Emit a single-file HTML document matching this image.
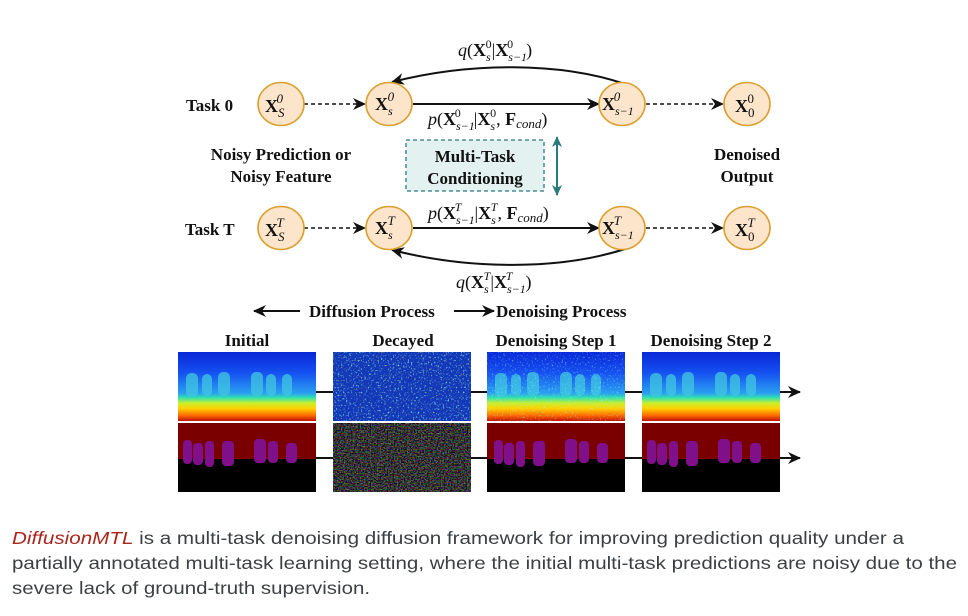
<!DOCTYPE html>
<html><head><meta charset="utf-8"><style>
html,body{margin:0;padding:0;background:#fff;}
svg{display:block;}
.t{font-family:"Liberation Serif",serif;font-weight:bold;font-size:17px;fill:#111;}
.m{font-family:"Liberation Serif",serif;font-size:18px;fill:#111;}
.c{font-family:"Liberation Sans",sans-serif;font-size:17.5px;fill:#3c4043;}
</style></head><body>
<svg width="968" height="616" viewBox="0 0 968 616" xmlns="http://www.w3.org/2000/svg">
<defs>
<marker id="ah" markerWidth="14" markerHeight="12" refX="12" refY="6" orient="auto" markerUnits="userSpaceOnUse">
<path d="M0,0 L13,6 L0,12 L4,6 z" fill="#111"/></marker>
<marker id="ahg" markerWidth="12" markerHeight="10" refX="10" refY="5" orient="auto-start-reverse" markerUnits="userSpaceOnUse">
<path d="M0,0 L11,5 L0,10 L3,5 z" fill="#2a7b7e"/></marker>
<linearGradient id="dep" x1="0" y1="0" x2="0" y2="1">
<stop offset="0" stop-color="#0a28d8"/><stop offset="0.3" stop-color="#1550f0"/>
<stop offset="0.6" stop-color="#2aa0f0"/><stop offset="0.66" stop-color="#30e0b0"/>
<stop offset="0.74" stop-color="#c8f030"/><stop offset="0.82" stop-color="#ffd000"/>
<stop offset="0.92" stop-color="#ff6a00"/><stop offset="1" stop-color="#c01000"/></linearGradient>
<filter id="nz" x="0" y="0" width="1" height="1"><feTurbulence type="fractalNoise" baseFrequency="0.7" numOctaves="1" seed="3"/><feColorMatrix type="matrix" values="2.2 0 0 0 -0.95  0 2.2 0 0 -0.95  0 0 2.2 0 -0.95  0 0 0 0 1"/></filter>
<filter id="nz2" x="0" y="0" width="1" height="1"><feTurbulence type="fractalNoise" baseFrequency="0.6" numOctaves="1" seed="7"/><feColorMatrix type="matrix" values="0 0 0 0 0.3  0 0 0 0 0.95  0 0 0 0 1  4 0 0 0 -2.3"/></filter>
<filter id="nz3" x="0" y="0" width="1" height="1"><feTurbulence type="fractalNoise" baseFrequency="0.6" numOctaves="1" seed="11"/><feColorMatrix type="matrix" values="0 0 0 0 1  0 0 0 0 0.9  0 0 0 0 0.1  0 4 0 0 -2.6"/></filter>
<g id="figs" fill="#80108a">
<rect x="5" y="17" width="9" height="24" rx="4"/><rect x="15" y="20" width="10" height="22" rx="4"/><rect x="27" y="18" width="9" height="26" rx="4"/>
<rect x="44" y="18" width="12" height="25" rx="4"/><rect x="76" y="16" width="12" height="24" rx="4"/><rect x="90" y="18" width="10" height="22" rx="4"/><rect x="108" y="20" width="11" height="20" rx="4"/></g>
<g id="dfigs" fill="#40c8e0" opacity="0.75">
<rect x="8" y="21" width="12" height="24" rx="5"/><rect x="24" y="22" width="10" height="22" rx="5"/><rect x="40" y="20" width="12" height="24" rx="5"/>
<rect x="73" y="20" width="12" height="24" rx="5"/><rect x="88" y="22" width="10" height="22" rx="5"/><rect x="104" y="22" width="10" height="22" rx="5"/></g>
</defs>

<path d="M625,84 C560,62 470,62 392,82" fill="none" stroke="#111" stroke-width="2" marker-end="url(#ah)"/>
<text class="m" x="458" y="56"><tspan font-style="italic">q</tspan>(<tspan font-weight="bold">X</tspan><tspan font-size="12" dy="5" font-style="italic">s</tspan><tspan font-size="12" dx="-5" dy="-13">0</tspan><tspan dy="8">|</tspan><tspan font-weight="bold">X</tspan><tspan font-size="12" dy="5" font-style="italic">s−1</tspan><tspan font-size="12" dx="-20" dy="-13">0</tspan><tspan dx="13" dy="8">)</tspan></text>
<path d="M625,249 C560,270 470,270 392,250" fill="none" stroke="#111" stroke-width="2" marker-end="url(#ah)"/>
<text class="m" x="456" y="288"><tspan font-style="italic">q</tspan>(<tspan font-weight="bold">X</tspan><tspan font-size="12" dy="5" font-style="italic">s</tspan><tspan font-size="12" dx="-5" dy="-13" font-style="italic">T</tspan><tspan dy="8">|</tspan><tspan font-weight="bold">X</tspan><tspan font-size="12" dy="5" font-style="italic">s−1</tspan><tspan font-size="12" dx="-20" dy="-13" font-style="italic">T</tspan><tspan dx="13" dy="8">)</tspan></text>

<g stroke="#111" stroke-width="1.6" fill="none">
<line x1="304" y1="104" x2="365" y2="104" stroke-dasharray="4,3" marker-end="url(#ah)"/>
<line x1="413" y1="104" x2="599" y2="104" stroke-width="2" marker-end="url(#ah)"/>
<line x1="646" y1="104" x2="723" y2="104" stroke-dasharray="4,3" marker-end="url(#ah)"/>
<line x1="304" y1="228" x2="365" y2="228" stroke-dasharray="4,3" marker-end="url(#ah)"/>
<line x1="413" y1="228" x2="599" y2="228" stroke-width="2" marker-end="url(#ah)"/>
<line x1="646" y1="228" x2="723" y2="228" stroke-dasharray="4,3" marker-end="url(#ah)"/>
</g>
<g fill="#fde5cb" stroke="#d9a030" stroke-width="1.6">
<ellipse cx="281" cy="104" rx="23" ry="21.5"/><ellipse cx="389" cy="104" rx="23" ry="21.5"/><ellipse cx="622" cy="104" rx="23" ry="21.5"/><ellipse cx="747" cy="104" rx="23" ry="21.5"/>
<ellipse cx="281" cy="228" rx="23" ry="21.5"/><ellipse cx="389" cy="228" rx="23" ry="21.5"/><ellipse cx="622" cy="228" rx="23" ry="21.5"/><ellipse cx="747" cy="228" rx="23" ry="21.5"/>
</g>
<g class="m" font-size="20">
<text x="265" y="112"><tspan font-weight="bold">X</tspan><tspan font-size="13" dy="5" font-style="italic">S</tspan><tspan font-size="13" dx="-8" dy="-14" font-style="italic">0</tspan></text>
<text x="375" y="110"><tspan font-weight="bold">X</tspan><tspan font-size="12" dy="5" font-style="italic">s</tspan><tspan font-size="13" dx="-5" dy="-14" font-style="italic">0</tspan></text>
<text x="602" y="110"><tspan font-weight="bold">X</tspan><tspan font-size="12" dy="5" font-style="italic">s−1</tspan><tspan font-size="13" dx="-20" dy="-14" font-style="italic">0</tspan></text>
<text x="735" y="112"><tspan font-weight="bold">X</tspan><tspan font-size="13" dy="5">0</tspan><tspan font-size="13" dx="-7" dy="-14">0</tspan></text>
<text x="265" y="236"><tspan font-weight="bold">X</tspan><tspan font-size="13" dy="5" font-style="italic">S</tspan><tspan font-size="13" dx="-8" dy="-14" font-style="italic">T</tspan></text>
<text x="375" y="234"><tspan font-weight="bold">X</tspan><tspan font-size="12" dy="5" font-style="italic">s</tspan><tspan font-size="13" dx="-5" dy="-14" font-style="italic">T</tspan></text>
<text x="602" y="234"><tspan font-weight="bold">X</tspan><tspan font-size="12" dy="5" font-style="italic">s−1</tspan><tspan font-size="13" dx="-20" dy="-14" font-style="italic">T</tspan></text>
<text x="735" y="236"><tspan font-weight="bold">X</tspan><tspan font-size="13" dy="5">0</tspan><tspan font-size="13" dx="-7" dy="-14" font-style="italic">T</tspan></text>
</g>
<g class="m">
<text x="428" y="125"><tspan font-style="italic">p</tspan>(<tspan font-weight="bold">X</tspan><tspan font-size="12" dy="5" font-style="italic">s−1</tspan><tspan font-size="12" dx="-20" dy="-13">0</tspan><tspan dx="13" dy="8">|</tspan><tspan font-weight="bold">X</tspan><tspan font-size="12" dy="5" font-style="italic">s</tspan><tspan font-size="12" dx="-5" dy="-13">0</tspan><tspan dy="8">, </tspan><tspan font-weight="bold">F</tspan><tspan font-size="13" dy="3" font-style="italic">cond</tspan><tspan dy="-3">)</tspan></text>
<text x="428" y="219"><tspan font-style="italic">p</tspan>(<tspan font-weight="bold">X</tspan><tspan font-size="12" dy="5" font-style="italic">s−1</tspan><tspan font-size="12" dx="-20" dy="-13" font-style="italic">T</tspan><tspan dx="13" dy="8">|</tspan><tspan font-weight="bold">X</tspan><tspan font-size="12" dy="5" font-style="italic">s</tspan><tspan font-size="12" dx="-5" dy="-13" font-style="italic">T</tspan><tspan dy="8">, </tspan><tspan font-weight="bold">F</tspan><tspan font-size="13" dy="3" font-style="italic">cond</tspan><tspan dy="-3">)</tspan></text>
</g>
<text class="t" x="186" y="111" font-size="18">Task 0</text>
<text class="t" x="185" y="235" font-size="18">Task T</text>
<text class="t" x="281" y="160" text-anchor="middle" font-size="18">Noisy Prediction or</text>
<text class="t" x="281" y="182" text-anchor="middle" font-size="18">Noisy Feature</text>
<text class="t" x="747" y="160" text-anchor="middle" font-size="18">Denoised</text>
<text class="t" x="747" y="182" text-anchor="middle" font-size="18">Output</text>
<rect x="406" y="140" width="138" height="51" fill="#e3f1f1" stroke="#2a7b7e" stroke-width="1.3" stroke-dasharray="4,3"/>
<text class="t" x="475" y="162" text-anchor="middle" font-size="21">Multi-Task</text>
<text class="t" x="475" y="184" text-anchor="middle" font-size="21">Conditioning</text>
<line x1="557" y1="137" x2="557" y2="195" stroke="#2a7b7e" stroke-width="2" marker-start="url(#ahg)" marker-end="url(#ahg)"/>

<line x1="300" y1="311" x2="254" y2="311" stroke="#111" stroke-width="2" marker-end="url(#ah)"/>
<text class="t" x="309" y="317" font-size="16">Diffusion Process</text>
<line x1="454" y1="311" x2="494" y2="311" stroke="#111" stroke-width="2" marker-end="url(#ah)"/>
<text class="t" x="496" y="317" font-size="16">Denoising Process</text>
<g class="t" font-size="16" text-anchor="middle">
<text x="247" y="346">Initial</text><text x="403" y="346">Decayed</text><text x="556" y="346">Denoising Step 1</text><text x="711" y="346">Denoising Step 2</text></g>

<line x1="316" y1="392" x2="800" y2="392" stroke="#111" stroke-width="2" marker-end="url(#ah)"/>
<line x1="316" y1="458" x2="800" y2="458" stroke="#111" stroke-width="2" marker-end="url(#ah)"/>

<g transform="translate(178,352)">
<rect width="138" height="69" fill="url(#dep)"/><use href="#dfigs"/>
<rect y="71" width="138" height="69" fill="#7a0000"/><rect y="107" width="138" height="33" fill="#000"/>
<use href="#figs" transform="translate(0,71)"/>
</g>
<g transform="translate(333,352)">
<rect width="138" height="69" fill="#1238b8"/><rect width="138" height="69" filter="url(#nz2)"/><rect width="138" height="69" filter="url(#nz3)"/>
<rect y="71" width="138" height="69" fill="#000"/><rect y="71" width="138" height="69" filter="url(#nz)" opacity="0.55"/>
</g>
<g transform="translate(487,352)">
<rect width="138" height="69" fill="url(#dep)"/><use href="#dfigs"/><rect width="138" height="69" filter="url(#nz2)" opacity="0.6"/>
<rect y="71" width="138" height="69" fill="#7a0000"/><rect y="107" width="138" height="33" fill="#000"/>
<use href="#figs" transform="translate(2,71)"/>
</g>
<g transform="translate(642,352)">
<rect width="138" height="69" fill="url(#dep)"/><use href="#dfigs"/>
<rect y="71" width="138" height="69" fill="#7a0000"/><rect y="107" width="138" height="33" fill="#000"/>
<use href="#figs" transform="translate(0,71)"/>
</g>

<text class="c" x="12" y="544" textLength="892" lengthAdjust="spacingAndGlyphs"><tspan fill="#a8261c" font-style="italic">DiffusionMTL</tspan> is a multi-task denoising diffusion framework for improving prediction quality under a</text>
<text class="c" x="12" y="569" textLength="945" lengthAdjust="spacingAndGlyphs">partially annotated multi-task learning setting, where the initial multi-task predictions are noisy due to the</text>
<text class="c" x="12" y="594" textLength="358" lengthAdjust="spacingAndGlyphs">severe lack of ground-truth supervision.</text>
</svg>
</body></html>
